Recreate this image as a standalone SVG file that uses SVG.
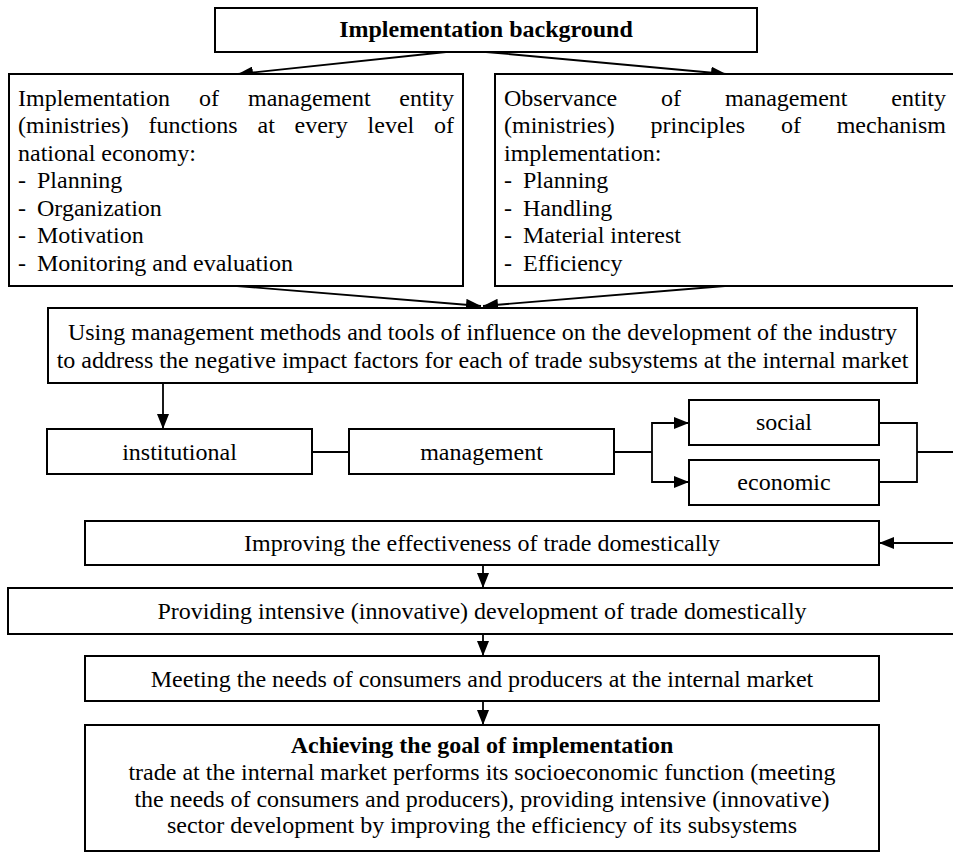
<svg xmlns="http://www.w3.org/2000/svg" width="953" height="853" viewBox="0 0 953 853">
<style>
.box{fill:#fff;stroke:#000;stroke-width:2}
.t{font-family:"Liberation Serif","Times New Roman",serif;font-size:24px;fill:#000}
.c{text-anchor:middle}
.e{text-anchor:end}
.b{font-weight:bold}
.ln{fill:none;stroke:#000;stroke-width:1.8}
</style>
<defs>
<marker id="ah" markerUnits="userSpaceOnUse" markerWidth="15" markerHeight="12" refX="15" refY="6" orient="auto">
<path d="M0,0 L15,6 L0,12 z" fill="#000"/>
</marker>
</defs>
<rect width="953" height="853" fill="#fff"/>

<g id="connectors">
<line class="ln" x1="446" y1="52" x2="238" y2="74" marker-end="url(#ah)"/>
<line class="ln" x1="486" y1="52" x2="726" y2="74" marker-end="url(#ah)"/>
<line class="ln" x1="237" y1="286" x2="481" y2="306" marker-end="url(#ah)"/>
<line class="ln" x1="725" y1="286" x2="483" y2="306" marker-end="url(#ah)"/>
<line class="ln" x1="163" y1="383" x2="163" y2="429" marker-end="url(#ah)"/>
<line class="ln" x1="312" y1="452" x2="349" y2="452"/>
<polyline class="ln" points="614,452 652,452"/>
<polyline class="ln" points="689,423 652,423 652,482 689,482"/>
<line class="ln" x1="652" y1="423" x2="689" y2="423" marker-end="url(#ah)"/>
<line class="ln" x1="652" y1="482" x2="689" y2="482" marker-end="url(#ah)"/>
<polyline class="ln" points="879,423 917,423 917,482 879,482"/>
<line class="ln" x1="917" y1="452" x2="953" y2="452"/>
<line class="ln" x1="953" y1="543" x2="879" y2="543" marker-end="url(#ah)"/>
<line class="ln" x1="483" y1="565" x2="483" y2="588" marker-end="url(#ah)"/>
<line class="ln" x1="483" y1="634" x2="483" y2="656" marker-end="url(#ah)"/>
<line class="ln" x1="483" y1="701" x2="483" y2="725" marker-end="url(#ah)"/>
</g>

<g id="background">
<rect class="box" x="215" y="8" width="542" height="44"/>
<text class="t b c" x="486" y="37">Implementation background</text>
</g>

<g id="functions">
<rect class="box" x="9" y="74" width="454" height="212"/>
<text class="t"><tspan x="18" y="105.5">Implementation</tspan><tspan x="199" y="105.5">of</tspan><tspan x="248" y="105.5">management</tspan></text>
<text class="t e" x="454" y="105.5">entity</text>
<text class="t"><tspan x="18" y="133">(ministries)</tspan><tspan x="148.4" y="133">functions</tspan><tspan x="257.5" y="133">at</tspan><tspan x="294.5" y="133">every</tspan><tspan x="367.6" y="133">level</tspan></text>
<text class="t e" x="454" y="133">of</text>
<text class="t" x="18" y="160.5">national economy:</text>
<text class="t"><tspan x="18" y="188">-</tspan><tspan x="37" y="188">Planning</tspan></text>
<text class="t"><tspan x="18" y="215.5">-</tspan><tspan x="37" y="215.5">Organization</tspan></text>
<text class="t"><tspan x="18" y="243">-</tspan><tspan x="37" y="243">Motivation</tspan></text>
<text class="t"><tspan x="18" y="270.5">-</tspan><tspan x="37" y="270.5">Monitoring and evaluation</tspan></text>
</g>

<g id="principles">
<rect class="box" x="495" y="74" width="465" height="212"/>
<text class="t"><tspan x="504" y="105.5">Observance</tspan><tspan x="661.1" y="105.5">of</tspan><tspan x="724.9" y="105.5">management</tspan></text>
<text class="t e" x="946" y="105.5">entity</text>
<text class="t"><tspan x="504" y="133">(ministries)</tspan><tspan x="650.5" y="133">principles</tspan><tspan x="780.9" y="133">of</tspan></text>
<text class="t e" x="946" y="133">mechanism</text>
<text class="t" x="504" y="160.5">implementation:</text>
<text class="t"><tspan x="504" y="188">-</tspan><tspan x="523" y="188">Planning</tspan></text>
<text class="t"><tspan x="504" y="215.5">-</tspan><tspan x="523" y="215.5">Handling</tspan></text>
<text class="t"><tspan x="504" y="243">-</tspan><tspan x="523" y="243">Material interest</tspan></text>
<text class="t"><tspan x="504" y="270.5">-</tspan><tspan x="523" y="270.5">Efficiency</tspan></text>
</g>

<g id="methods">
<rect class="box" x="48" y="308" width="869" height="75"/>
<text class="t c" x="482.5" y="340">Using management methods and tools of influence on the development of the industry</text>
<text class="t c" x="482.5" y="368">to address the negative impact factors for each of trade subsystems at the internal market</text>
</g>

<g id="institutional">
<rect class="box" x="47" y="429" width="265" height="45"/>
<text class="t c" x="179.5" y="459.5">institutional</text>
</g>

<g id="management">
<rect class="box" x="349" y="429" width="265" height="45"/>
<text class="t c" x="481.5" y="459.5">management</text>
</g>

<g id="social">
<rect class="box" x="689" y="400" width="190" height="45"/>
<text class="t c" x="784" y="430">social</text>
</g>

<g id="economic">
<rect class="box" x="689" y="460" width="190" height="45"/>
<text class="t c" x="784" y="490">economic</text>
</g>

<g id="improving">
<rect class="box" x="85" y="521" width="794" height="44"/>
<text class="t c" x="482" y="550.5">Improving the effectiveness of trade domestically</text>
</g>

<g id="providing">
<rect class="box" x="8" y="588" width="960" height="46"/>
<text class="t c" x="482" y="618.5">Providing intensive (innovative) development of trade domestically</text>
</g>

<g id="meeting">
<rect class="box" x="85" y="656" width="794" height="45"/>
<text class="t c" x="482" y="686.5">Meeting the needs of consumers and producers at the internal market</text>
</g>

<g id="goal">
<rect class="box" x="85" y="725" width="794" height="126"/>
<text class="t b c" x="482" y="753">Achieving the goal of implementation</text>
<text class="t c" x="482" y="780">trade at the internal market performs its socioeconomic function (meeting</text>
<text class="t c" x="482" y="807">the needs of consumers and producers), providing intensive (innovative)</text>
<text class="t c" x="482" y="833">sector development by improving the efficiency of its subsystems</text>
</g>
</svg>
